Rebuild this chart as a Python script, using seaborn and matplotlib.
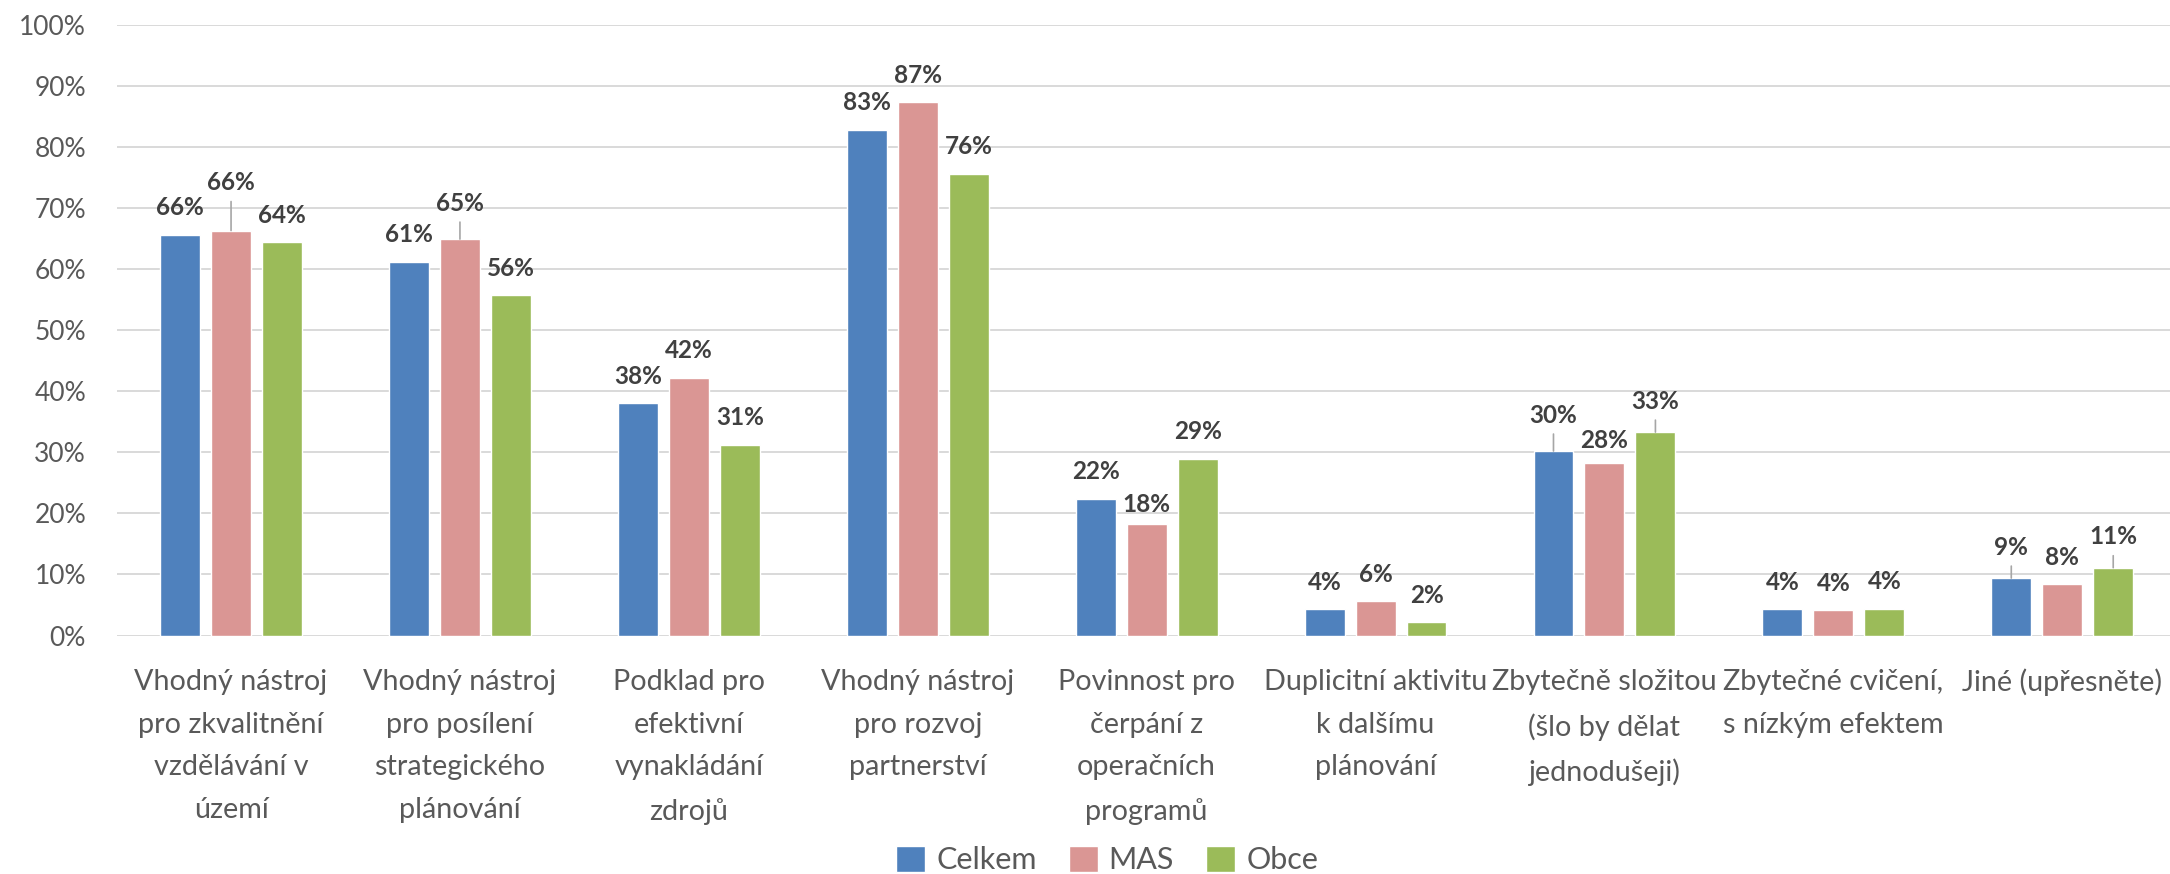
import matplotlib
matplotlib.use("Agg")
import matplotlib.pyplot as plt
import seaborn as sns
import pandas as pd
from matplotlib.ticker import FuncFormatter, MultipleLocator

# ---------------- data ----------------
categories = [
    "Vhodný nástroj\npro zkvalitnění\nvzdělávání v\núzemí",
    "Vhodný nástroj\npro posílení\nstrategického\nplánování",
    "Podklad pro\nefektivní\nvynakládání\nzdrojů",
    "Vhodný nástroj\npro rozvoj\npartnerství",
    "Povinnost pro\nčerpání z\noperačních\nprogramů",
    "Duplicitní aktivitu\nk dalšímu\nplánování",
    "Zbytečně složitou\n(šlo by dělat\njednodušeji)",
    "Zbytečné cvičení,\ns nízkým efektem",
    "Jiné (upřesněte)",
]
series = ["Celkem", "MAS", "Obce"]
celkem = [65.6, 61.2, 38.0, 82.8, 22.4, 4.3, 30.2, 4.3, 9.4]
mas = [66.3, 64.9, 42.2, 87.3, 18.3, 5.6, 28.2, 4.1, 8.4]
obce = [64.4, 55.7, 31.2, 75.6, 28.9, 2.2, 33.3, 4.4, 11.1]

colors = ["#4F81BD", "#DA9694", "#9BBB59"]

# label placement (pixels above bar top) – style only
label_offset_default = 27
label_offset_extra = {(0, 1): 48, (1, 1): 36, (4, 1): 19,
                      (6, 0): 36, (6, 1): 23, (6, 2): 31,
                      (8, 0): 31, (8, 2): 31}
leader = {(0, 1), (1, 1), (6, 0), (6, 2), (8, 0), (8, 2)}

rows = []
for s, vals in zip(series, [celkem, mas, obce]):
    for c, v in zip(categories, vals):
        rows.append({"cat": c, "series": s, "value": v})
df = pd.DataFrame(rows)

# ---------------- figure ----------------
sns.set_style("white")
plt.rcParams["font.family"] = ["Lato", "DejaVu Sans"]

W, H = 2170, 874
fig = plt.figure(figsize=(W / 100, H / 100), dpi=100)
left_px, right_px = 116.6, 2170
top_px, bottom_px = 24.7, 635.5
ax = fig.add_axes([left_px / W, 1 - bottom_px / H,
                   (right_px - left_px) / W, (bottom_px - top_px) / H])

sns.barplot(data=df, x="cat", y="value", hue="series", palette=colors,
            width=0.668, gap=0.216, saturation=1, ax=ax, legend=True)

cat_w = 228.9
ax.set_xlim(-0.5, -0.5 + (right_px - left_px) / cat_w)
ax.set_ylim(0, 100)
ax.yaxis.set_major_locator(MultipleLocator(10))
ax.yaxis.set_major_formatter(FuncFormatter(lambda v, p: f"{v:.0f}%"))
ax.grid(axis="y", color="#D9D9D9", linewidth=1.4)
ax.grid(axis="x", visible=False)
ax.set_axisbelow(True)
for sp in ax.spines.values():
    sp.set_visible(False)
ax.set_xlabel("")
ax.set_ylabel("")
ax.tick_params(axis="y", length=0, pad=22, labelsize=19, labelcolor="#595959")
ax.tick_params(axis="x", length=0, pad=24, labelsize=20.7, labelcolor="#595959")
for t in ax.get_xticklabels():
    t.set_linespacing(1.8)
    t.set_verticalalignment("top")

# data labels
for si, cont in enumerate(ax.containers):
    for ci, bar in enumerate(cont):
        h = bar.get_height()
        xc = bar.get_x() + bar.get_width() / 2
        off = label_offset_extra.get((ci, si), label_offset_default)
        ax.annotate(f"{h:.0f}%", xy=(xc, h), xytext=(0, off),
                    textcoords="offset pixels", ha="center", va="center",
                    fontsize=17.5, fontweight="bold", color="#404040")
        if (ci, si) in leader:
            ax.annotate("", xy=(xc, h), xytext=(0, off - 19),
                        textcoords="offset pixels",
                        arrowprops=dict(arrowstyle="-", color="#A6A6A6",
                                        lw=1.2, shrinkA=0, shrinkB=0))

handles, labels = ax.get_legend_handles_labels()
ax.get_legend().remove()
fig.legend(handles, labels, loc="center", bbox_to_anchor=(1107 / W, 1 - 860 / H),
           ncol=3, frameon=False, fontsize=22, labelcolor="#595959",
           handlelength=0.95, handleheight=0.95, handletextpad=0.36,
           columnspacing=1.05, borderpad=0, borderaxespad=0)

fig.savefig("out.png", dpi=100)
